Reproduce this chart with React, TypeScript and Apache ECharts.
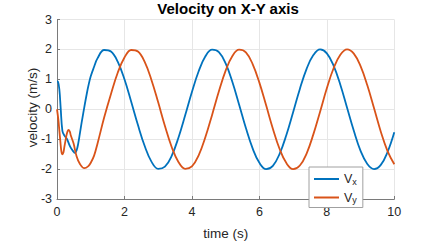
import React, { useEffect, useRef } from "react";
import * as echarts from "echarts";

const titleText = "Velocity on X-Y axis";
const xAxisName = "time (s)";
const yAxisName = "velocity (m/s)";
const seriesNames = ["Vx", "Vy"];
const seriesColors = ["#0072BD", "#D95319"];

const tX = [0, 0.03, 0.07, 0.11, 0.16, 0.22, 0.29, 0.39, 0.49, 0.53, 0.58, 0.63, 0.68, 0.73, 0.78, 0.83, 0.88, 0.93, 1.0, 1.1, 1.2,
  1.4, 1.6, 1.8, 2.0, 2.2, 2.4, 2.6, 2.8, 3.0, 3.2, 3.4, 3.6, 3.8, 4.0, 4.2, 4.4, 4.6, 4.8, 5.0, 5.2, 5.4, 5.6, 5.8, 6.0,
  6.2, 6.4, 6.6, 6.8, 7.0, 7.2, 7.4, 7.6, 7.8, 8.0, 8.2, 8.4, 8.6, 8.8, 9.0, 9.2, 9.4, 9.6, 9.8, 10.0];
const vX = [0.93, 0.92, 0.66, 0.02, -0.72, -0.88, -0.98, -1.25, -1.42, -1.46, -1.38, -1.14, -0.80, -0.45, -0.12, 0.20, 0.50, 0.78, 1.10, 1.42, 1.70,
  1.98, 1.93, 1.59, 1.00, 0.25, -0.53, -1.23, -1.75, -1.99, -1.92, -1.56, -0.95, -0.20,
  0.58, 1.27, 1.77, 1.99, 1.91, 1.53, 0.91, 0.15, -0.63, -1.31, -1.79, -2.00, -1.89, -1.49, -0.86, -0.10,
  0.68, 1.35, 1.81, 2.00, 1.87, 1.46, 0.82, 0.05, -0.72, -1.39, -1.83, -2.00, -1.86, -1.43, -0.77];

const tY = [0, 0.04, 0.07, 0.10, 0.13, 0.16, 0.19, 0.22, 0.26, 0.29, 0.34, 0.38, 0.41, 0.49, 0.58, 0.68, 0.81, 0.93, 1.0, 1.1, 1.2,
  1.4, 1.6, 1.8, 2.0, 2.2, 2.4, 2.6, 2.8, 3.0, 3.2, 3.4, 3.6, 3.8, 4.0, 4.2, 4.4, 4.6, 4.8, 5.0, 5.2, 5.4, 5.6, 5.8, 6.0,
  6.2, 6.4, 6.6, 6.8, 7.0, 7.2, 7.4, 7.6, 7.8, 8.0, 8.2, 8.4, 8.6, 8.8, 9.0, 9.2, 9.4, 9.6, 9.8, 10.0];
const vY = [0, -0.35, -0.72, -1.08, -1.41, -1.51, -1.45, -1.25, -1.00, -0.83, -0.69, -0.75, -0.88, -1.14, -1.57, -1.83, -1.97, -1.90, -1.79, -1.55, -1.15,
  -0.27, 0.51, 1.22, 1.73, 1.98, 1.93, 1.58, 0.98, 0.23, -0.56, -1.26, -1.76, -1.99,
  -1.91, -1.54, -0.93, -0.18, 0.60, 1.29, 1.78, 1.99, 1.90, 1.51, 0.89, 0.13, -0.65, -1.33, -1.80, -2.00,
  -1.88, -1.48, -0.84, -0.08, 0.70, 1.37, 1.82, 2.00, 1.86, 1.44, 0.80, 0.03, -0.75, -1.40, -1.84];

const xMin = 0, xMax = 10, xStep = 2;
const yMin = -3, yMax = 3, yStep = 1;

const FONT = "Liberation Sans, Arial, Helvetica, sans-serif";

export default function App() {
  const ref = useRef<HTMLDivElement>(null);
  useEffect(() => {
    if (!ref.current) return;
    const chart = echarts.init(ref.current, null, { renderer: "svg" });
    const pairs = (t: number[], v: number[]) => t.map((x, i) => [x, v[i]]);
    chart.setOption({
      animation: false,
      backgroundColor: "#ffffff",
      title: {
        text: titleText,
        left: 223,
        textAlign: "center",
        top: -4,
        textStyle: { fontFamily: FONT, fontSize: 15, fontWeight: "bold", color: "#000000" },
      },
      grid: { left: 57, right: 41.7, top: 19.5, bottom: 36, containLabel: false },
      graphic: [
        {
          type: "text",
          x: 32,
          y: 107.5,
          rotation: Math.PI / 2,
          style: {
            text: yAxisName,
            fontFamily: FONT,
            fontSize: 13.5,
            fill: "#262626",
            align: "center",
            verticalAlign: "middle",
          },
        },
      ],
      legend: {
        data: seriesNames,
        orient: "vertical",
        left: 309,
        top: 167,
        backgroundColor: "#ffffff",
        borderColor: "#a0a0a0",
        borderWidth: 1,
        borderRadius: 0,
        padding: [5, 6, 3, 5],
        itemGap: 4.5,
        itemWidth: 25,
        itemHeight: 2,
        icon: "rect",
        formatter: (name: string) => (name === "Vx" ? "V{s|x}" : "V{s|y}"),
        textStyle: {
          fontFamily: FONT,
          fontSize: 12.5,
          color: "#262626",
          lineHeight: 14,
          rich: {
            s: { fontFamily: FONT, fontSize: 9, color: "#262626", verticalAlign: "bottom", padding: [6, 0, 0, 0] },
          },
        },
      },
      xAxis: {
        type: "value",
        min: xMin,
        max: xMax,
        interval: xStep,
        name: xAxisName,
        nameLocation: "middle",
        nameGap: 27,
        nameTextStyle: { fontFamily: FONT, fontSize: 13.5, color: "#262626" },
        axisLine: { show: true, onZero: false, lineStyle: { color: "#7a7a7a", width: 1 } },
        axisTick: { show: true, inside: true, length: 3, lineStyle: { color: "#7a7a7a" } },
        axisLabel: { fontFamily: FONT, fontSize: 12.5, color: "#262626", margin: 6 },
        splitLine: { show: true, lineStyle: { color: "#e6e6e6", width: 1 } },
      },
      yAxis: {
        type: "value",
        min: yMin,
        max: yMax,
        interval: yStep,
        axisLine: { show: true, onZero: false, lineStyle: { color: "#7a7a7a", width: 1 } },
        axisTick: { show: true, inside: true, length: 3, lineStyle: { color: "#7a7a7a" } },
        axisLabel: { fontFamily: FONT, fontSize: 12.5, color: "#262626", margin: 5 },
        splitLine: { show: true, lineStyle: { color: "#e6e6e6", width: 1 } },
      },
      series: [
        {
          name: seriesNames[0],
          type: "line",
          data: pairs(tX, vX),
          smooth: 0.4,
          showSymbol: false,
          symbol: "none",
          lineStyle: { color: seriesColors[0], width: 1.8 },
          itemStyle: { color: seriesColors[0] },
        },
        {
          name: seriesNames[1],
          type: "line",
          data: pairs(tY, vY),
          smooth: 0.4,
          showSymbol: false,
          symbol: "none",
          lineStyle: { color: seriesColors[1], width: 1.8 },
          itemStyle: { color: seriesColors[1] },
        },
      ],
    });
    return () => chart.dispose();
  }, []);
  return (
    <div
      ref={ref}
      style={{ position: "absolute", left: 0, top: 0, width: 436, height: 245, background: "#fff" }}
    />
  );
}
